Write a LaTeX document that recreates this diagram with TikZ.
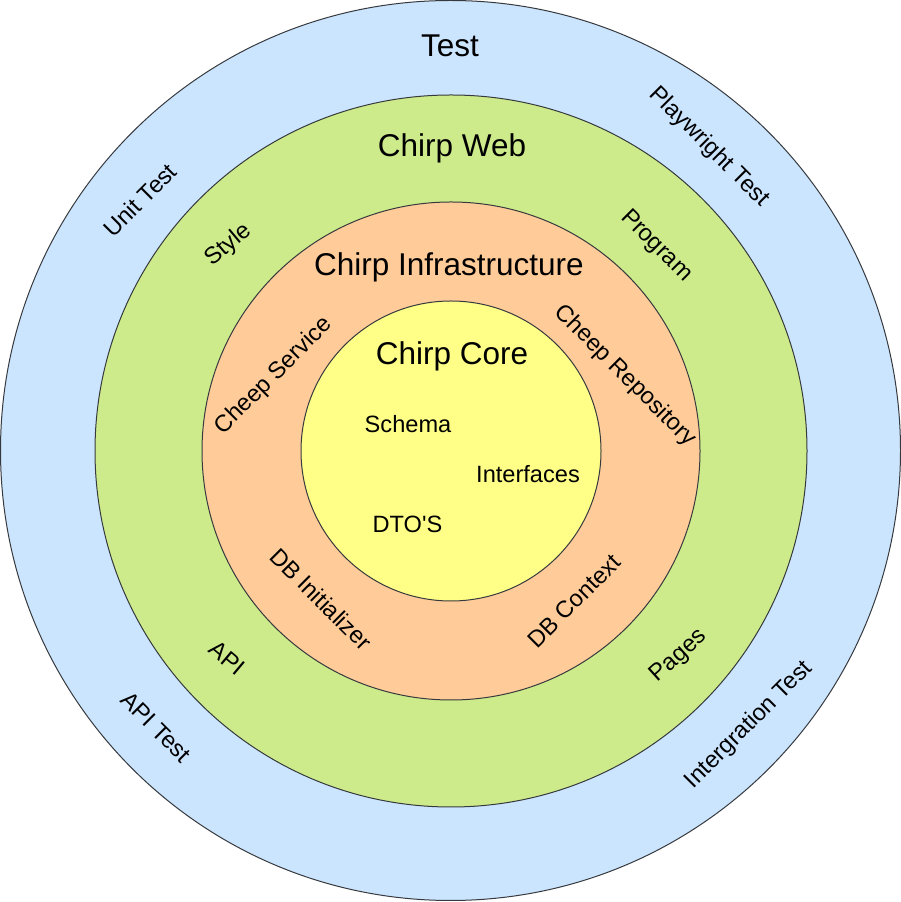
\documentclass[tikz,border=0pt]{standalone}
\usepackage{fontspec}
\setmainfont{Liberation Sans}
\newfontfamily\rawfont{Liberation Sans}
\definecolor{ringblue}{HTML}{CCE5FF}
\definecolor{ringgreen}{HTML}{CDEB8B}
\definecolor{ringorange}{HTML}{FFCC99}
\definecolor{ringyellow}{HTML}{FFFF88}
\definecolor{ringline}{HTML}{36393D}
\begin{document}
\begin{tikzpicture}[x=1pt,y=1pt,
  ring/.style={circle, draw=ringline, line width=1pt, inner sep=0pt, outer sep=0pt},
  big/.style={inner sep=0pt, anchor=base, font=\fontsize{31.5}{36}\selectfont},
  small/.style={inner sep=0pt, anchor=base, font=\fontsize{23.6}{28}\selectfont},
  tilted/.style={inner sep=0pt, anchor=center, font=\fontsize{23.6}{28}\selectfont}]
\useasboundingbox (0,0) rectangle (901,902);
\node[ring, fill=ringblue, minimum size=900pt] (test) at (450.5,451.5) {};
\node[ring, fill=ringgreen, minimum size=712pt] (web) at (451,451) {};
\node[ring, fill=ringorange, minimum size=498pt] (infra) at (451,451) {};
\node[ring, fill=ringyellow, minimum size=300pt] (core) at (451,451) {};

\node[big] (ttest) at (450,845.3) {Test};
\node[big] (tweb) at (452,745.3) {Chirp Web};
\node[big] (tinfra) at (449,626) {Chirp Infrastructure};
\node[big] (tcore) at (452,537) {Chirp Core};

\node[small] (schema) at (408,469) {Schema};
\node[small] (interfaces) at (528,419) {Interfaces};
\node[small] (dtos) at (407.5,369) {\rawfont DTO'S};

\node[tilted, rotate=45] (unittest) at (140,702) {Unit Test};
\node[tilted, rotate=-45] (playwright) at (709,755) {Playwright Test};
\node[tilted, rotate=40] (style) at (229,657) {Style};
\node[tilted, rotate=-45] (program) at (656,656) {Program};
\node[tilted, rotate=45] (cheepservice) at (274,526) {Cheep Service};
\node[tilted, rotate=-45] (cheeprepo) at (625,526) {Cheep Repository};
\node[tilted, rotate=-45] (dbinit) at (321,303) {DB Initializer};
\node[tilted, rotate=45] (dbcontext) at (574,301) {DB Context};
\node[tilted, rotate=-40] (api) at (227,244) {API};
\node[tilted, rotate=42] (pages) at (679,246) {Pages};
\node[tilted, rotate=-45] (apitest) at (156,175) {API Test};
\node[tilted, rotate=45] (integration) at (749,177) {Intergration Test};
\end{tikzpicture}
\end{document}
